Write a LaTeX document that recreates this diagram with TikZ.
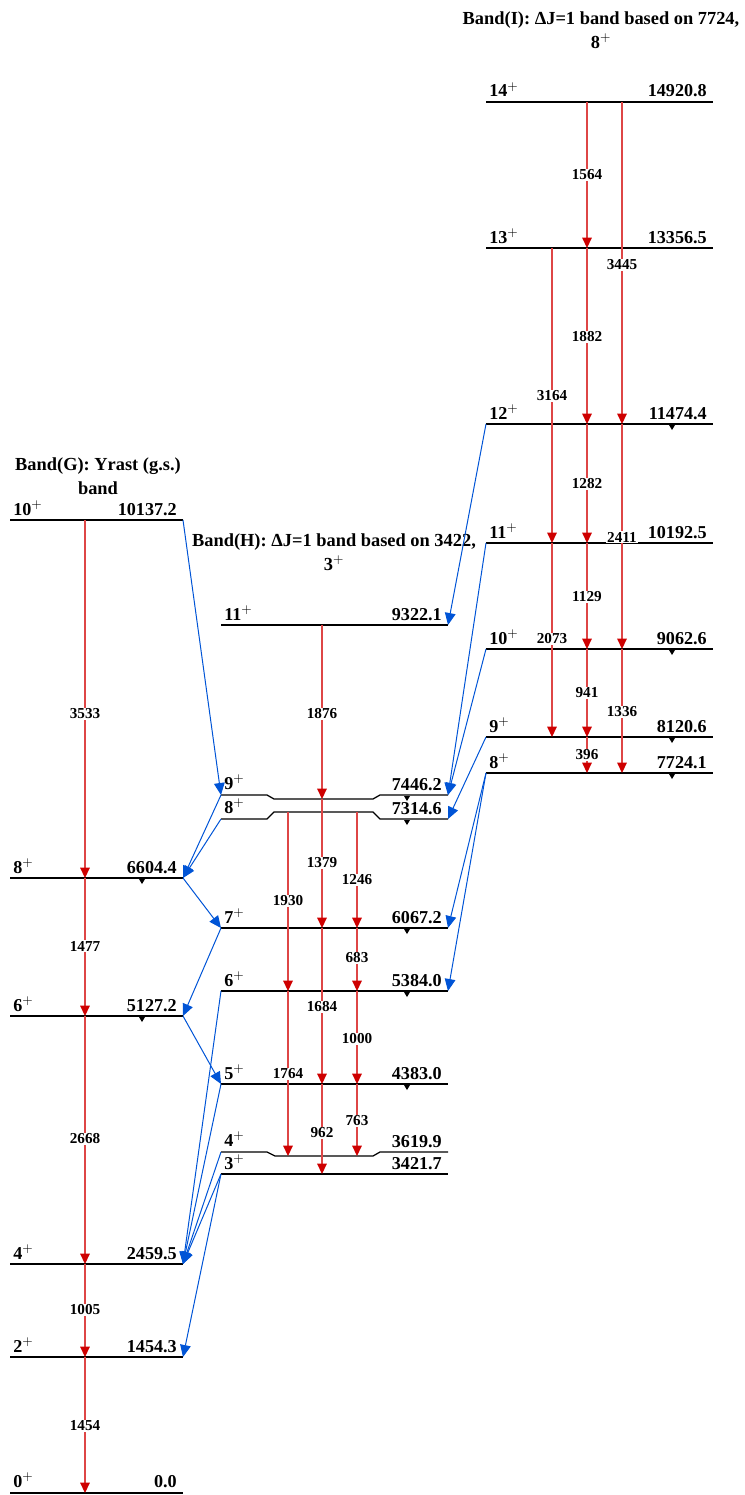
\documentclass[tikz,border=0pt]{standalone}
\usepackage{fontspec}
\setmainfont{Liberation Serif}
\usetikzlibrary{arrows.meta, positioning, calc}
\definecolor{gred}{RGB}{206,0,0}
\definecolor{gline}{RGB}{222,70,70}
\definecolor{lblue}{RGB}{0,84,214}

\begin{document}
\begin{tikzpicture}[
    x=0.75pt, y=-0.75pt,
    font=\fontsize{13.6}{16}\selectfont\bfseries,
    lev/.style={line width=0.95pt},
    gam/.style={draw=gline, line width=0.8pt, -{Triangle[width=7.2pt,length=7.8pt,color=gred]}},
    link/.style={draw=lblue, line width=0.75pt, -{Triangle[width=8pt,length=9pt]}},
    spin/.style={anchor=base west, inner sep=0pt},
    energy/.style={anchor=base east, inner sep=0pt},
    glab/.style={font=\fontsize{11.4}{13}\selectfont\bfseries, fill=white, inner sep=1pt},
    head/.style={align=center, font=\fontsize{13.8}{18}\selectfont\bfseries},
]
\useasboundingbox (0,0) rectangle (744,1495);

% Band headings
\node[head] (headI) at (601,30) {Band(I): ΔJ=1 band based on 7724,\\8$^+$};
\node[head] (headG) at (98,476) {Band(G): Yrast (g.s.)\\band};
\node[head] (headH) at (334,552) {Band(H): ΔJ=1 band based on 3422,\\3$^+$};

% Band G levels
\foreach \n/\y/\e in {10/520/10137.2, 8/878/6604.4, 6/1016/5127.2, 4/1264/2459.5, 2/1357/1454.3}{
    \coordinate (G\n l) at (10,\y);
    \coordinate (G\n r) at (183,\y);
    \draw[lev] (G\n l) -- (G\n r);
    \node[spin] (G\n s) at ([shift={(3,-5)}]G\n l) {\n$^+$};
    \node[energy] (G\n e) at ([shift={(-6,-5)}]G\n r) {\e};
}
\coordinate (G0l) at (10,1493);
\coordinate (G0r) at (183,1493);
\draw[line width=2pt] (G0l) -- (G0r);
\node[spin] (G0s) at ([shift={(3,-6)}]G0l) {0$^+$};
\node[energy] (G0e) at ([shift={(-6,-6)}]G0r) {0.0};

% Band H levels
\foreach \n/\y/\e in {11/625/9322.1, 7/928/6067.2, 6/991/5384.0, 5/1084/4383.0, 3/1174/3421.7}{
    \coordinate (H\n l) at (221,\y);
    \coordinate (H\n r) at (448,\y);
    \draw[lev] (H\n l) -- (H\n r);
    \node[spin] (H\n s) at ([shift={(3,-5)}]H\n l) {\n$^+$};
    \node[energy] (H\n e) at ([shift={(-6,-5)}]H\n r) {\e};
}
% close-lying levels, drawn with kinks
\coordinate (H9l) at (221,795);  \coordinate (H9r) at (448,795);  \coordinate (H9m) at (274,799);
\coordinate (H8l) at (221,819);  \coordinate (H8r) at (448,819);  \coordinate (H8m) at (274,812);
\coordinate (H4l) at (221,1152); \coordinate (H4r) at (448,1152); \coordinate (H4m) at (275,1156);
\draw[lev] (H9l) -- ++(46,0) -- (H9m) -- ++(99,0) -- ++(7,-4) -- (H9r);
\draw[lev] (H8l) -- ++(46,0) -- (H8m) -- ++(99,0) -- ++(7,7) -- (H8r);
\draw[lev] (H4l) -- ++(46,0) -- (H4m) -- ++(98,0) -- ++(7,-4) -- (H4r);
\foreach \n/\e in {9/7446.2, 8/7314.6, 4/3619.9}{
    \node[spin] (H\n s) at ([shift={(3,-6)}]H\n l) {\n$^+$};
    \node[energy] (H\n e) at ([shift={(-6,-5)}]H\n r) {\e};
}

% Band I levels
\foreach \n/\y/\e in {14/102/14920.8, 13/248/13356.5, 12/424/11474.4, 11/543/10192.5, 10/649/9062.6, 9/737/8120.6, 8/773/7724.1}{
    \coordinate (I\n l) at (486,\y);
    \coordinate (I\n r) at (713,\y);
    \draw[lev] (I\n l) -- (I\n r);
    \node[spin] (I\n s) at ([shift={(3,-5)}]I\n l) {\n$^+$};
    \node[energy] (I\n e) at ([shift={(-6,-5)}]I\n r) {\e};
}

% small feeding marks
\foreach \p in {G8r, G6r, H9r, H8r, H7r, H6r, H5r, I12r, I10r, I9r, I8r}
    \fill ([shift={(-44,1)}]\p) -- ++(6,0) -- ++(-3,5) -- cycle;

% columns for in-band transitions
\coordinate (cG) at (85,0);
\coordinate (cH1) at (288,0); \coordinate (cH2) at (322,0); \coordinate (cH3) at (357,0);
\coordinate (cI1) at (552,0); \coordinate (cI2) at (587,0); \coordinate (cI3) at (622,0);

% in-band transitions
\foreach \a/\b/\c/\t/\ly in {G10l/G8l/cG/3533/714, G8l/G6l/cG/1477/946, G6l/G4l/cG/2668/1139,
        G4l/G2l/cG/1005/1310, G2l/G0l/cG/1454/1426,
        H11l/H9m/cH2/1876/714, H9m/H7l/cH2/1379/863, H8m/H6l/cH1/1930/901, H8m/H7l/cH3/1246/880,
        H7l/H6l/cH3/683/958, H7l/H5l/cH2/1684/1007, H6l/H5l/cH3/1000/1039, H6l/H4m/cH1/1764/1074,
        H5l/H4m/cH3/763/1121, H5l/H3l/cH2/962/1133,
        I14l/I13l/cI2/1564/175, I14l/I12l/cI3/3445/265, I13l/I12l/cI2/1882/337, I13l/I11l/cI1/3164/396,
        I12l/I11l/cI2/1282/484, I12l/I10l/cI3/2411/537, I11l/I10l/cI2/1129/597, I11l/I9l/cI1/2073/639,
        I10l/I9l/cI2/941/693, I10l/I8l/cI3/1336/712, I9l/I8l/cI2/396/755}{
    \draw[gam] (\a -| \c) -- (\b -| \c);
    \node[glab] (g\t) at ($(\c)+(0,\ly)$) {\t};
}

% linking transitions between bands
\foreach \a/\b in {G10r/H9l, H9l/G8r, H8l/G8r, G8r/H7l, H7l/G6r, G6r/H5l,
        H6l/G4r, H5l/G4r, H4l/G4r, H3l/G4r, H3l/G2r,
        I12l/H11r, I11l/H9r, I10l/H9r, I9l/H8r, I8l/H7r, I8l/H6r}
    \draw[link] (\a) -- (\b);
\end{tikzpicture}
\end{document}
